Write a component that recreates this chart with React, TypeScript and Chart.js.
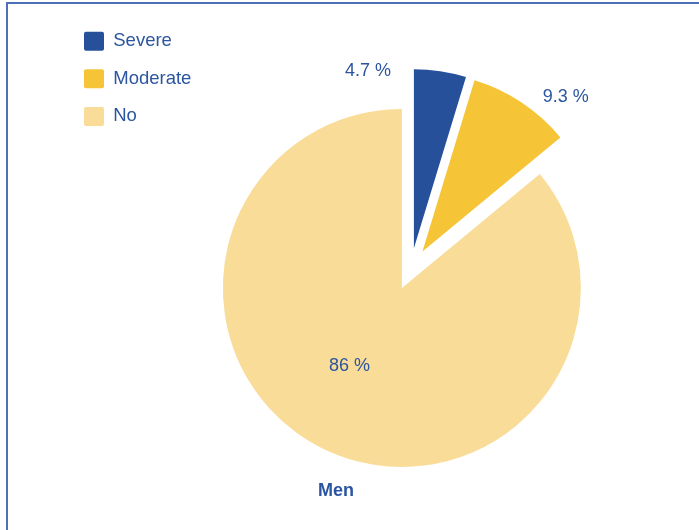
import React, { useEffect, useRef } from "react";
import { Chart, registerables } from "chart.js";

Chart.register(...registerables);

// ---- data ----
const categories = ["Severe", "Moderate", "No"];
const values = [4.7, 9.3, 86];
const valueLabels = ["4.7 %", "9.3 %", "86 %"];
const sliceColors = ["#27509b", "#f5c537", "#f9dc98"];
const chartTitle = "Men";

const TEXT_COLOR = "#2b55a0";
const FONT = '"Liberation Sans", Arial, Helvetica, sans-serif';

// moves every slice outward along its bisector (Excel-style explosion)
const explodePlugin = {
  id: "explode",
  afterUpdate(chart: any, _args: any, opts: any) {
    const d = opts.distance || 0;
    chart.getDatasetMeta(0).data.forEach((arc: any) => {
      const mid = (arc.startAngle + arc.endAngle) / 2;
      arc.x += Math.cos(mid) * d;
      arc.y += Math.sin(mid) * d;
    });
  },
};

// value labels placed in polar coordinates relative to each slice's apex
const sliceLabelPlugin = {
  id: "sliceLabels",
  afterDatasetsDraw(chart: any, _args: any, opts: any) {
    const ctx = chart.ctx;
    const arcs = chart.getDatasetMeta(0).data;
    ctx.save();
    ctx.font = `${opts.size}px ${FONT}`;
    ctx.fillStyle = opts.color;
    ctx.textAlign = "center";
    ctx.textBaseline = "middle";
    arcs.forEach((arc: any, i: number) => {
      const p = opts.placements[i];
      const a = ((p.angle - 90) * Math.PI) / 180;
      ctx.fillText(opts.labels[i], arc.x + Math.cos(a) * p.dist, arc.y + Math.sin(a) * p.dist);
    });
    ctx.restore();
  },
};

const bottomTitlePlugin = {
  id: "bottomTitle",
  afterDraw(chart: any, _args: any, opts: any) {
    const ctx = chart.ctx;
    ctx.save();
    ctx.font = `bold ${opts.size}px ${FONT}`;
    ctx.fillStyle = opts.color;
    ctx.textAlign = "center";
    ctx.textBaseline = "middle";
    ctx.fillText(opts.text, opts.x, opts.y);
    ctx.restore();
  },
};

export default function App() {
  const canvasRef = useRef<HTMLCanvasElement | null>(null);

  useEffect(() => {
    if (!canvasRef.current) return;
    const chart = new Chart(canvasRef.current, {
      type: "pie",
      data: {
        labels: categories,
        datasets: [
          {
            data: values,
            backgroundColor: sliceColors,
            borderWidth: 0,
            hoverOffset: 0,
          },
        ],
      },
      plugins: [explodePlugin, sliceLabelPlugin, bottomTitlePlugin],
      options: {
        responsive: false,
        animation: false,
        events: [],
        radius: 179,
        layout: { padding: { top: 13.1, left: 65.4, right: 78.8, bottom: 5.1 } },
        plugins: {
          tooltip: { enabled: false },
          title: { display: false },
          legend: {
            display: true,
            position: "left",
            align: "start",
            labels: {
              boxWidth: 20,
              boxHeight: 19,
              padding: 18.6,
              color: TEXT_COLOR,
              font: { size: 18.5, family: FONT },
              generateLabels: (ch: any) =>
                ch.data.labels.map((label: string, i: number) => ({
                  text: label,
                  fillStyle: sliceColors[i],
                  strokeStyle: sliceColors[i],
                  lineWidth: 0,
                  fontColor: TEXT_COLOR,
                  borderRadius: 2,
                  hidden: false,
                  index: i,
                })),
            },
          },
          explode: { distance: 21 },
          sliceLabels: {
            labels: valueLabels,
            size: 18,
            color: TEXT_COLOR,
            placements: [
              { angle: -14.5, dist: 183 },
              { angle: 42.8, dist: 211 },
              { angle: 213.8, dist: 94 },
            ],
          },
          bottomTitle: { text: chartTitle, x: 336, y: 491, size: 18, color: TEXT_COLOR },
        } as any,
      },
    });
    return () => chart.destroy();
  }, []);

  return (
    <div
      style={{
        position: "fixed",
        left: 0,
        top: 0,
        width: 699,
        height: 530,
        overflow: "hidden",
        background: "#ffffff",
      }}
    >
      <div
        style={{
          position: "absolute",
          left: 6,
          top: 2,
          width: 760,
          height: 600,
          border: "2px solid #4d70b6",
        }}
      />
      <canvas
        ref={canvasRef}
        width={699}
        height={530}
        style={{ position: "absolute", left: 0, top: 0, display: "block" }}
      />
    </div>
  );
}
